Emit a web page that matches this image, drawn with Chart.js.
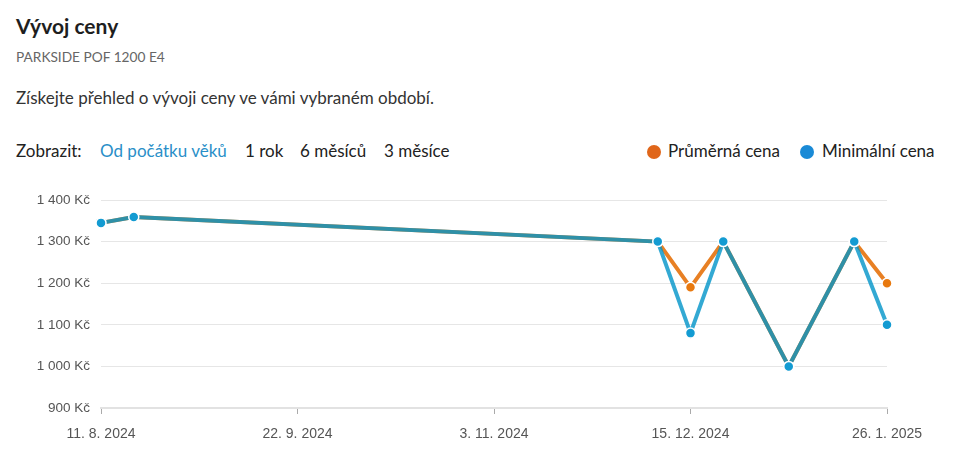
<!DOCTYPE html>
<html>
<head>
<meta charset="utf-8">
<script src="https://cdn.jsdelivr.net/npm/chart.js@4/dist/chart.umd.min.js"></script>
<style>
  html, body { margin:0; padding:0; background:#fff; width:959px; height:466px; overflow:hidden; }
  body { font-family: Lato, "Open Sans", sans-serif; color:#222; position:relative; }
  .abs { position:absolute; white-space:nowrap; }
  #title { left:16px; top:13px; font-size:21px; font-weight:bold; color:#1e1e1e; }
  #sub { left:16px; top:48px; font-size:13.7px; color:#666; }
  #desc { left:16px; top:87px; font-size:17px; color:#333; }
  .row { top:140px; font-size:17px; color:#222; }
  .active { color:#2a8fc8; }
  .dot { position:absolute; width:14px; height:14px; border-radius:50%; top:145px; }
  #wrap { position:absolute; left:0; top:180px; width:959px; height:270px; }
</style>
</head>
<body>
<div id="title" class="abs">Vývoj ceny</div>
<div id="sub" class="abs">PARKSIDE POF 1200 E4</div>
<div id="desc" class="abs">Získejte přehled o vývoji ceny ve vámi vybraném období.</div>

<div class="abs row" style="left:16px">Zobrazit:</div>
<div class="abs row active" style="left:100px">Od počátku věků</div>
<div class="abs row" style="left:245px">1 rok</div>
<div class="abs row" style="left:300px">6 měsíců</div>
<div class="abs row" style="left:384px">3 měsíce</div>

<div class="dot" style="left:647px;background:#e0661a"></div>
<div class="abs row" style="left:668px">Průměrná cena</div>
<div class="dot" style="left:800px;background:#1a8ad6"></div>
<div class="abs row" style="left:822px">Minimální cena</div>

<div id="wrap"><canvas id="c"></canvas></div>

<script>
// ---- data ----
const dates = ['2024-08-11','2024-08-18','2024-12-08','2024-12-15','2024-12-22','2025-01-05','2025-01-19','2025-01-26'];
const avgPrice = [1345, 1359, 1300, 1190, 1300, 1000, 1300, 1200];
const minPrice = [1345, 1359, 1300, 1080, 1300, 1000, 1300, 1100];
const tickDates = ['2024-08-11','2024-09-22','2024-11-03','2024-12-15','2025-01-26'];
const tickLabels = ['11. 8. 2024','22. 9. 2024','3. 11. 2024','15. 12. 2024','26. 1. 2025'];
const yTicks = [900, 1000, 1100, 1200, 1300, 1400];

// ---- helpers ----
const DAY = 86400000;
const origin = Date.parse(dates[0] + 'T00:00:00Z');
const toDay = s => Math.round((Date.parse(s + 'T00:00:00Z') - origin) / DAY);
const tickDays = tickDates.map(toDay);
const fmtK = v => String(v).replace(/\B(?=(\d{3})+(?!\d))/g, '\u00a0') + ' Kč';

const avgData = dates.map((d, i) => ({x: toDay(d), y: avgPrice[i]}));
const minData = dates.map((d, i) => ({x: toDay(d), y: minPrice[i]}));

new Chart(document.getElementById('c'), {
  type: 'line',
  data: {
    datasets: [
      {
        label: 'Průměrná cena',
        data: avgData,
        borderColor: 'rgb(232,128,36)',
        borderWidth: 4,
        pointRadius: 5,
        pointBackgroundColor: '#e8790f',
        pointBorderColor: '#ffffff',
        pointBorderWidth: 1.5,
        tension: 0,
        clip: false,
        order: 2
      },
      {
        label: 'Minimální cena',
        data: minData,
        borderColor: 'rgba(0,148,200,0.8)',
        borderWidth: 4,
        pointRadius: 5,
        pointBackgroundColor: '#139bd2',
        pointBorderColor: '#ffffff',
        pointBorderWidth: 1.5,
        tension: 0,
        clip: false,
        order: 1
      }
    ]
  },
  options: {
    responsive: true,
    maintainAspectRatio: false,
    animation: false,
    layout: { padding: { top: 20, right: 72, left: 0, bottom: 0 } },
    plugins: { legend: { display: false }, tooltip: { enabled: false } },
    scales: {
      x: {
        type: 'linear',
        min: tickDays[0],
        max: tickDays[tickDays.length - 1],
        afterBuildTicks: s => { s.ticks = tickDays.map(v => ({value: v})); },
        afterFit: s => { s.height = 42; },
        ticks: {
          autoSkip: false,
          maxRotation: 0,
          padding: 12,
          color: '#555',
          font: { family: 'Liberation Sans, Arial, sans-serif', size: 14 },
          callback: (v) => { const i = tickDays.indexOf(v); return i >= 0 ? tickLabels[i] : ''; }
        },
        grid: { drawOnChartArea: false, drawTicks: true, tickLength: 6, color: '#aaaaaa', tickColor: '#aaaaaa', tickWidth: 1 },
        border: { display: true, color: '#e2e2e2', width: 2 }
      },
      y: {
        min: yTicks[0],
        max: yTicks[yTicks.length - 1],
        afterBuildTicks: s => { s.ticks = yTicks.map(v => ({value: v})); },
        afterFit: s => { s.width = 101; },
        ticks: {
          padding: 11,
          color: '#555',
          font: { family: 'Liberation Sans, Arial, sans-serif', size: 13.5 },
          callback: v => fmtK(v)
        },
        grid: { drawTicks: false, color: '#e6e6e6', lineWidth: 1 },
        border: { display: false }
      }
    }
  }
});
</script>
</body>
</html>
